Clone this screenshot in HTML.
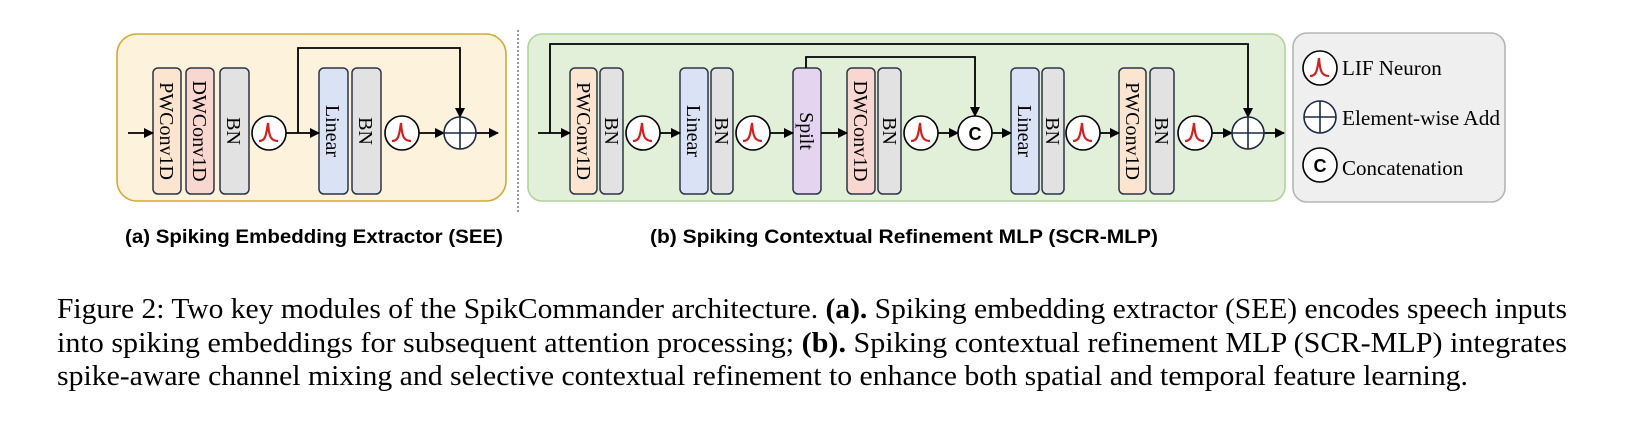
<!DOCTYPE html>
<html><head><meta charset="utf-8"><style>body{margin:0;background:#fff}svg{display:block}</style></head><body>
<svg width="1628" height="422" viewBox="0 0 1628 422" xmlns="http://www.w3.org/2000/svg">
<defs>
<marker id="ar" markerWidth="10" markerHeight="10" refX="9" refY="5" orient="auto" markerUnits="userSpaceOnUse"><path d="M0,0 L10,5 L0,10 z" fill="#000"/></marker>
<g id="lif"><circle r="17" fill="#fff" stroke="#000" stroke-width="1.6"/><path d="M-10,8 C-4,8 -3,4 -1,-10 C0,4 2,8 9,8" fill="none" stroke="#d81e1e" stroke-width="2.2"/></g>
<g id="add"><circle r="16" fill="#fff" stroke="#1c2a44" stroke-width="1.6"/><path d="M-16,0 H16 M0,-16 V16" stroke="#1c2a44" stroke-width="1.6"/></g>
<g id="cc"><circle r="17" fill="#fff" stroke="#000" stroke-width="1.6"/><text x="0" y="7" text-anchor="middle" font-family="Liberation Sans, sans-serif" font-size="18" font-weight="bold">C</text></g>
</defs>
<style>.b{stroke:#2b3545;stroke-width:1.5}.t{font-family:"Liberation Serif",serif;font-size:20px}.l{stroke:#000;stroke-width:1.8;fill:none}</style>

<rect x="117" y="34" width="389" height="167" rx="20" fill="#fdf3dc" stroke="#d4aa30" stroke-width="1.6"/>
<line x1="518" y1="30" x2="518" y2="212" stroke="#999" stroke-width="2" stroke-dasharray="2,2"/>
<rect x="528" y="34" width="757" height="167" rx="14" fill="#e2efd9" stroke="#b0d49a" stroke-width="1.6"/>
<rect x="1293" y="33" width="212" height="169" rx="14" fill="#efefef" stroke="#b5b5b5" stroke-width="1.6"/>

<g class="t">
<rect class="b" x="153" y="68" width="28" height="126" rx="5" fill="#fbe5d0"/><text transform="translate(160,131) rotate(90)" text-anchor="middle">PWConv1D</text>
<rect class="b" x="186" y="68" width="28" height="126" rx="5" fill="#f8d7d0"/><text transform="translate(193,131) rotate(90)" text-anchor="middle">DWConv1D</text>
<rect class="b" x="220" y="68" width="29" height="126" rx="5" fill="#e2e2e2"/><text transform="translate(227,131) rotate(90)" text-anchor="middle">BN</text>
<rect class="b" x="319" y="68" width="29" height="126" rx="5" fill="#dae3f6"/><text transform="translate(326,131) rotate(90)" text-anchor="middle">Linear</text>
<rect class="b" x="352" y="68" width="29" height="126" rx="5" fill="#e2e2e2"/><text transform="translate(359,131) rotate(90)" text-anchor="middle">BN</text>

<rect class="b" x="570" y="68" width="27" height="126" rx="5" fill="#fbe5d0"/><text transform="translate(577,131) rotate(90)" text-anchor="middle">PWConv1D</text>
<rect class="b" x="600" y="68" width="23" height="126" rx="5" fill="#e2e2e2"/><text transform="translate(605,131) rotate(90)" text-anchor="middle">BN</text>
<rect class="b" x="680" y="68" width="28" height="126" rx="5" fill="#dae3f6"/><text transform="translate(687,131) rotate(90)" text-anchor="middle">Linear</text>
<rect class="b" x="711" y="68" width="22" height="126" rx="5" fill="#e2e2e2"/><text transform="translate(715,131) rotate(90)" text-anchor="middle">BN</text>
<rect class="b" x="793" y="68" width="28" height="126" rx="5" fill="#e4d4f0"/><text transform="translate(800,131) rotate(90)" text-anchor="middle">Spilt</text>
<rect class="b" x="847" y="68" width="28" height="126" rx="5" fill="#f8d7d0"/><text transform="translate(854,131) rotate(90)" text-anchor="middle">DWConv1D</text>
<rect class="b" x="878" y="68" width="23" height="126" rx="5" fill="#e2e2e2"/><text transform="translate(883,131) rotate(90)" text-anchor="middle">BN</text>
<rect class="b" x="1011" y="68" width="28" height="126" rx="5" fill="#dae3f6"/><text transform="translate(1018,131) rotate(90)" text-anchor="middle">Linear</text>
<rect class="b" x="1042" y="68" width="22" height="126" rx="5" fill="#e2e2e2"/><text transform="translate(1046,131) rotate(90)" text-anchor="middle">BN</text>
<rect class="b" x="1119" y="68" width="27" height="126" rx="5" fill="#fbe5d0"/><text transform="translate(1126,131) rotate(90)" text-anchor="middle">PWConv1D</text>
<rect class="b" x="1150" y="68" width="24" height="126" rx="5" fill="#e2e2e2"/><text transform="translate(1155,131) rotate(90)" text-anchor="middle">BN</text>
</g>

<line class="l" x1="128" y1="133" x2="153" y2="133" marker-end="url(#ar)"/>
<line class="l" x1="286" y1="133" x2="319" y2="133" marker-end="url(#ar)"/>
<polyline class="l" points="298,133 298,48 460,48 460,117" marker-end="url(#ar)"/>
<line class="l" x1="419" y1="133" x2="444" y2="133" marker-end="url(#ar)"/>
<line class="l" x1="476" y1="133" x2="498" y2="133" marker-end="url(#ar)"/>
<use href="#lif" x="269" y="133"/><use href="#lif" x="402" y="133"/><use href="#add" x="460" y="133"/>

<line class="l" x1="538" y1="133" x2="570" y2="133" marker-end="url(#ar)"/>
<polyline class="l" points="550,133 550,44 1248,44 1248,117" marker-end="url(#ar)"/>
<line class="l" x1="660" y1="133" x2="680" y2="133" marker-end="url(#ar)"/>
<line class="l" x1="770" y1="133" x2="793" y2="133" marker-end="url(#ar)"/>
<line class="l" x1="821" y1="133" x2="847" y2="133" marker-end="url(#ar)"/>
<polyline class="l" points="806,68 806,57 975,57 975,116" marker-end="url(#ar)"/>
<line class="l" x1="938" y1="133" x2="958" y2="133" marker-end="url(#ar)"/>
<line class="l" x1="992" y1="133" x2="1011" y2="133" marker-end="url(#ar)"/>
<line class="l" x1="1100" y1="133" x2="1119" y2="133" marker-end="url(#ar)"/>
<line class="l" x1="1212" y1="133" x2="1232" y2="133" marker-end="url(#ar)"/>
<line class="l" x1="1264" y1="133" x2="1284" y2="133" marker-end="url(#ar)"/>
<use href="#lif" x="643" y="133"/><use href="#lif" x="753" y="133"/><use href="#lif" x="921" y="133"/>
<use href="#cc" x="975" y="133"/><use href="#lif" x="1083" y="133"/><use href="#lif" x="1195" y="133"/><use href="#add" x="1248" y="133"/>

<use href="#lif" x="1320" y="68"/><use href="#add" x="1320" y="117"/><use href="#cc" x="1320" y="165"/>
<g font-family="Liberation Serif, serif" font-size="21">
<text x="1342" y="75">LIF Neuron</text>
<text x="1342" y="125" textLength="158" lengthAdjust="spacingAndGlyphs">Element-wise Add</text>
<text x="1342" y="175">Concatenation</text>
</g>

<g font-family="Liberation Sans, sans-serif" font-size="19" font-weight="bold">
<text x="125" y="243" textLength="378" lengthAdjust="spacingAndGlyphs">(a) Spiking Embedding Extractor (SEE)</text>
<text x="650" y="243" textLength="508" lengthAdjust="spacingAndGlyphs">(b) Spiking Contextual Refinement MLP (SCR-MLP)</text>
</g>

<g font-family="Liberation Serif, serif" font-size="28">
<text x="57" y="318" textLength="1510" lengthAdjust="spacingAndGlyphs">Figure 2: Two key modules of the SpikCommander architecture. <tspan font-weight="bold">(a).</tspan> Spiking embedding extractor (SEE) encodes speech inputs</text>
<text x="57" y="352" textLength="1510" lengthAdjust="spacingAndGlyphs">into spiking embeddings for subsequent attention processing; <tspan font-weight="bold">(b).</tspan> Spiking contextual refinement MLP (SCR-MLP) integrates</text>
<text x="57" y="385" textLength="1411" lengthAdjust="spacingAndGlyphs">spike-aware channel mixing and selective contextual refinement to enhance both spatial and temporal feature learning.</text>
</g>
</svg>
</body></html>
